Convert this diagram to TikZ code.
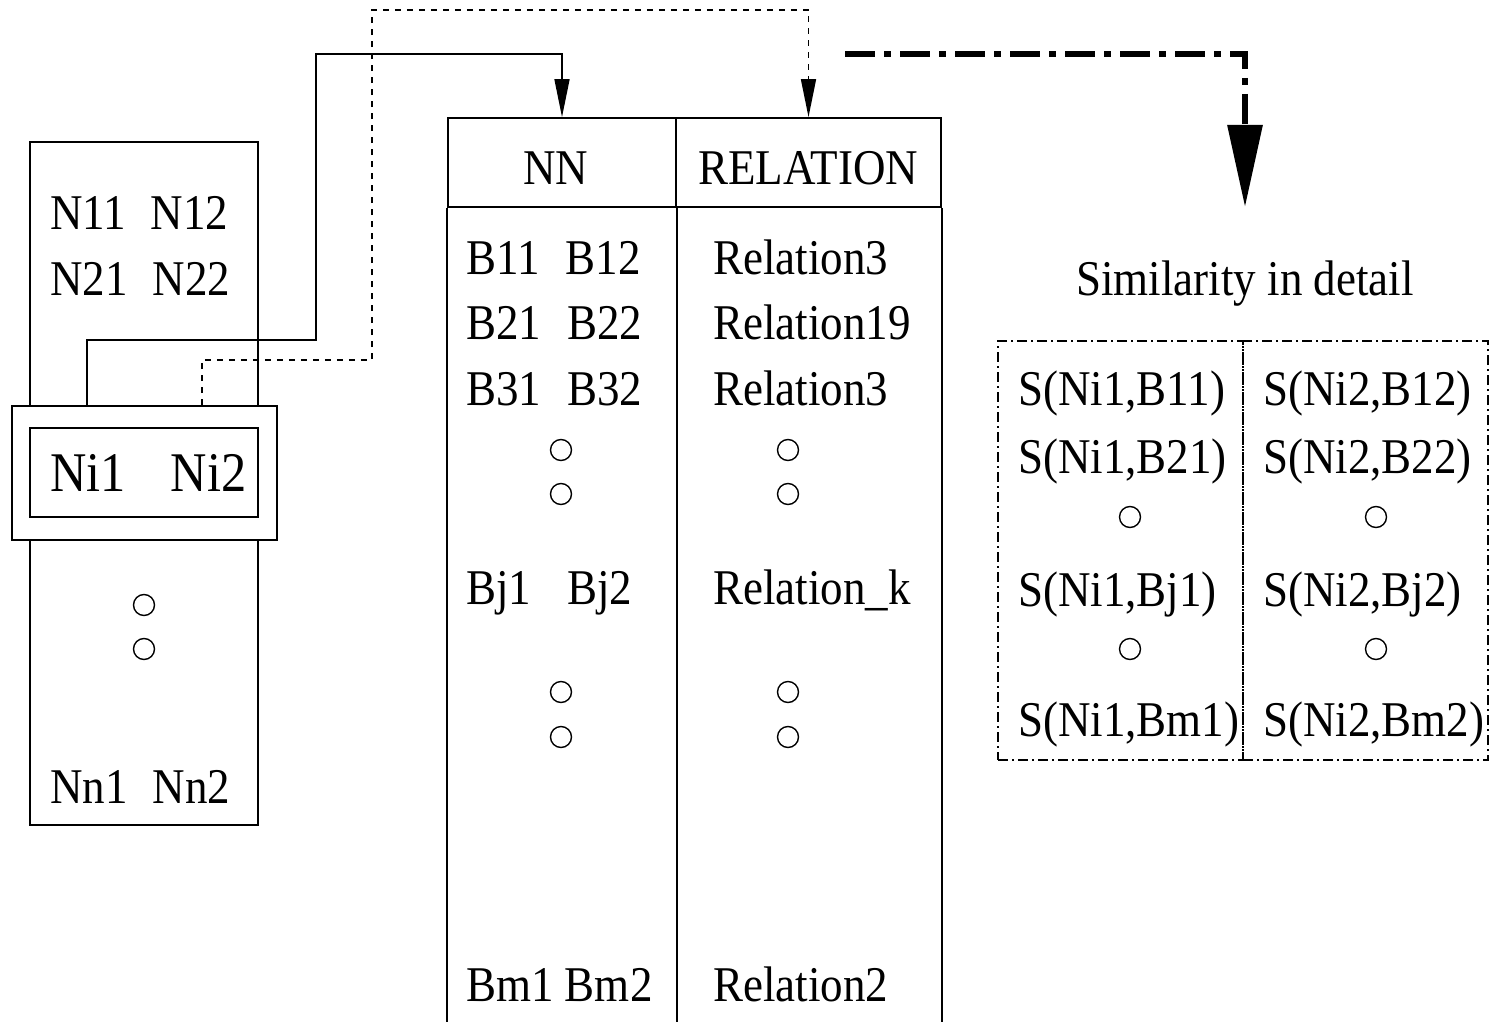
\documentclass[tikz,border=0pt]{standalone}
\usepackage{fontspec}
\setmainfont{Liberation Serif}[FakeStretch=0.9]
\usetikzlibrary{arrows.meta,calc}
\begin{document}
\begin{tikzpicture}[x=1pt,y=-1pt,
  txt/.style={inner sep=0pt, anchor=base west, font=\fontsize{50}{55}\selectfont},
  ctxt/.style={inner sep=0pt, anchor=base, font=\fontsize{50}{55}\selectfont},
  bigtxt/.style={inner sep=0pt, anchor=base west, font=\fontsize{56}{60}\selectfont},
  ring/.style={circle, draw, line width=1.4pt, minimum size=21pt, inner sep=0pt},
  frame/.style={draw, line width=1.8pt, inner sep=0pt},
  conn/.style={line width=1.6pt, -{Triangle[length=38pt,width=15pt]}},
  dotconn/.style={conn, dash pattern=on 6pt off 6pt},
  bigconn/.style={line width=6pt, line join=miter, dash pattern=on 30pt off 9pt on 7pt off 9pt,
                  -{Triangle[length=82pt,width=34pt]}},
  ddbox/.style={draw, line width=1.5pt, dash pattern=on 10pt off 4pt on 2pt off 4pt, inner sep=0pt}
]
\useasboundingbox (0,0) rectangle (1491,1022);

% left list box
\node[frame, minimum width=228pt, minimum height=683pt] (list) at (144,483.5) {};
\node[txt] (n1) at (50,229.5) {N11\hspace{25pt}N12};
\node[txt] (n2) at (50,295.5) {N21\hspace{25pt}N22};
\node[ring] (lc1) at (144,605) {};
\node[ring] (lc2) at (144,649) {};
\node[txt] (nn) at (50,803.5) {Nn1\hspace{25pt}Nn2};

% Ni highlight
\node[frame, fill=white, minimum width=265pt, minimum height=134pt] (niout) at (144.5,473) {};
\node[frame, minimum width=228pt, minimum height=89pt] (niin) at (144,472.5) {};
\node[bigtxt] (ni) at (50,491.5) {Ni1\hspace{45pt}Ni2};

% table
\node[frame, minimum width=228pt, minimum height=89pt] (nnh) at (562,162.5) {};
\node[frame, minimum width=265pt, minimum height=89pt] (relh) at (808.5,162.5) {};
\node[ctxt] (nnt) at (556,184.5) {NN};
\node[ctxt] (relt) at (808,184.5) {RELATION};
\draw[line width=1.8pt] (nnh.south west) -- (nnh.south west |- 0,1022);
\draw[line width=1.8pt] (nnh.south east) -- (nnh.south east |- 0,1022);
\draw[line width=1.8pt] (relh.south east) -- (relh.south east |- 0,1022);

\node[txt] (b1) at (466,274.5) {B11\hspace{26pt}B12};
\node[txt] (b2) at (466,339.5) {B21\hspace{26pt}B22};
\node[txt] (b3) at (466,405.5) {B31\hspace{26pt}B32};
\node[ring] (bc1) at (561,450) {};
\node[ring] (bc2) at (561,494) {};
\node[txt] (bj) at (466,604.5) {Bj1\hspace{36pt}Bj2};
\node[ring] (bc3) at (561,692) {};
\node[ring] (bc4) at (561,737) {};
\node[txt] (bm) at (466,1001.5) {Bm1 Bm2};

\node[txt] (r1) at (713,274.5) {Relation3};
\node[txt] (r2) at (713,339.5) {Relation19};
\node[txt] (r3) at (713,405.5) {Relation3};
\node[ring] (rc1) at (788,450) {};
\node[ring] (rc2) at (788,494) {};
\node[txt] (rk) at (713,604.5) {Relation\_k};
\node[ring] (rc3) at (788,692) {};
\node[ring] (rc4) at (788,737) {};
\node[txt] (rm) at (713,1001.5) {Relation2};

% similarity
\node[ctxt] (simt) at (1245,295.5) {Similarity in detail};
\node[ddbox, minimum width=245pt, minimum height=419pt] (sl) at (1120.5,550.5) {};
\node[ddbox, minimum width=245pt, minimum height=419pt] (sr) at (1365.5,550.5) {};
\node[txt] (s11) at (1018,405.5) {S(Ni1,B11)};
\node[txt] (s12) at (1263,405.5) {S(Ni2,B12)};
\node[txt] (s21) at (1018,473.5) {S(Ni1,B21)};
\node[txt] (s22) at (1263,473.5) {S(Ni2,B22)};
\node[ring] (sc1) at (1130,517) {};
\node[ring] (sc2) at (1376,517) {};
\node[txt] (sj1) at (1018,606.5) {S(Ni1,Bj1)};
\node[txt] (sj2) at (1263,606.5) {S(Ni2,Bj2)};
\node[ring] (sc3) at (1130,649) {};
\node[ring] (sc4) at (1376,649) {};
\node[txt] (sm1) at (1018,736.5) {S(Ni1,Bm1)};
\node[txt] (sm2) at (1263,736.5) {S(Ni2,Bm2)};

% connectors
\draw[conn] (87,0 |- niout.north) -- (87,340) -- (316,340) -- (316,54) -- (nnh.north |- 0,54) -- (nnh.north);
\draw[dotconn] (202,0 |- niout.north) -- (202,360) -- (372,360) -- (372,10) -- (relh.north |- 0,10) -- (relh.north);
\coordinate (bigstart) at (845,54);
\coordinate (simtip) at (1245,207);
\draw[bigconn] (bigstart) -- (simtip |- bigstart) -- (simtip);
\end{tikzpicture}
\end{document}
